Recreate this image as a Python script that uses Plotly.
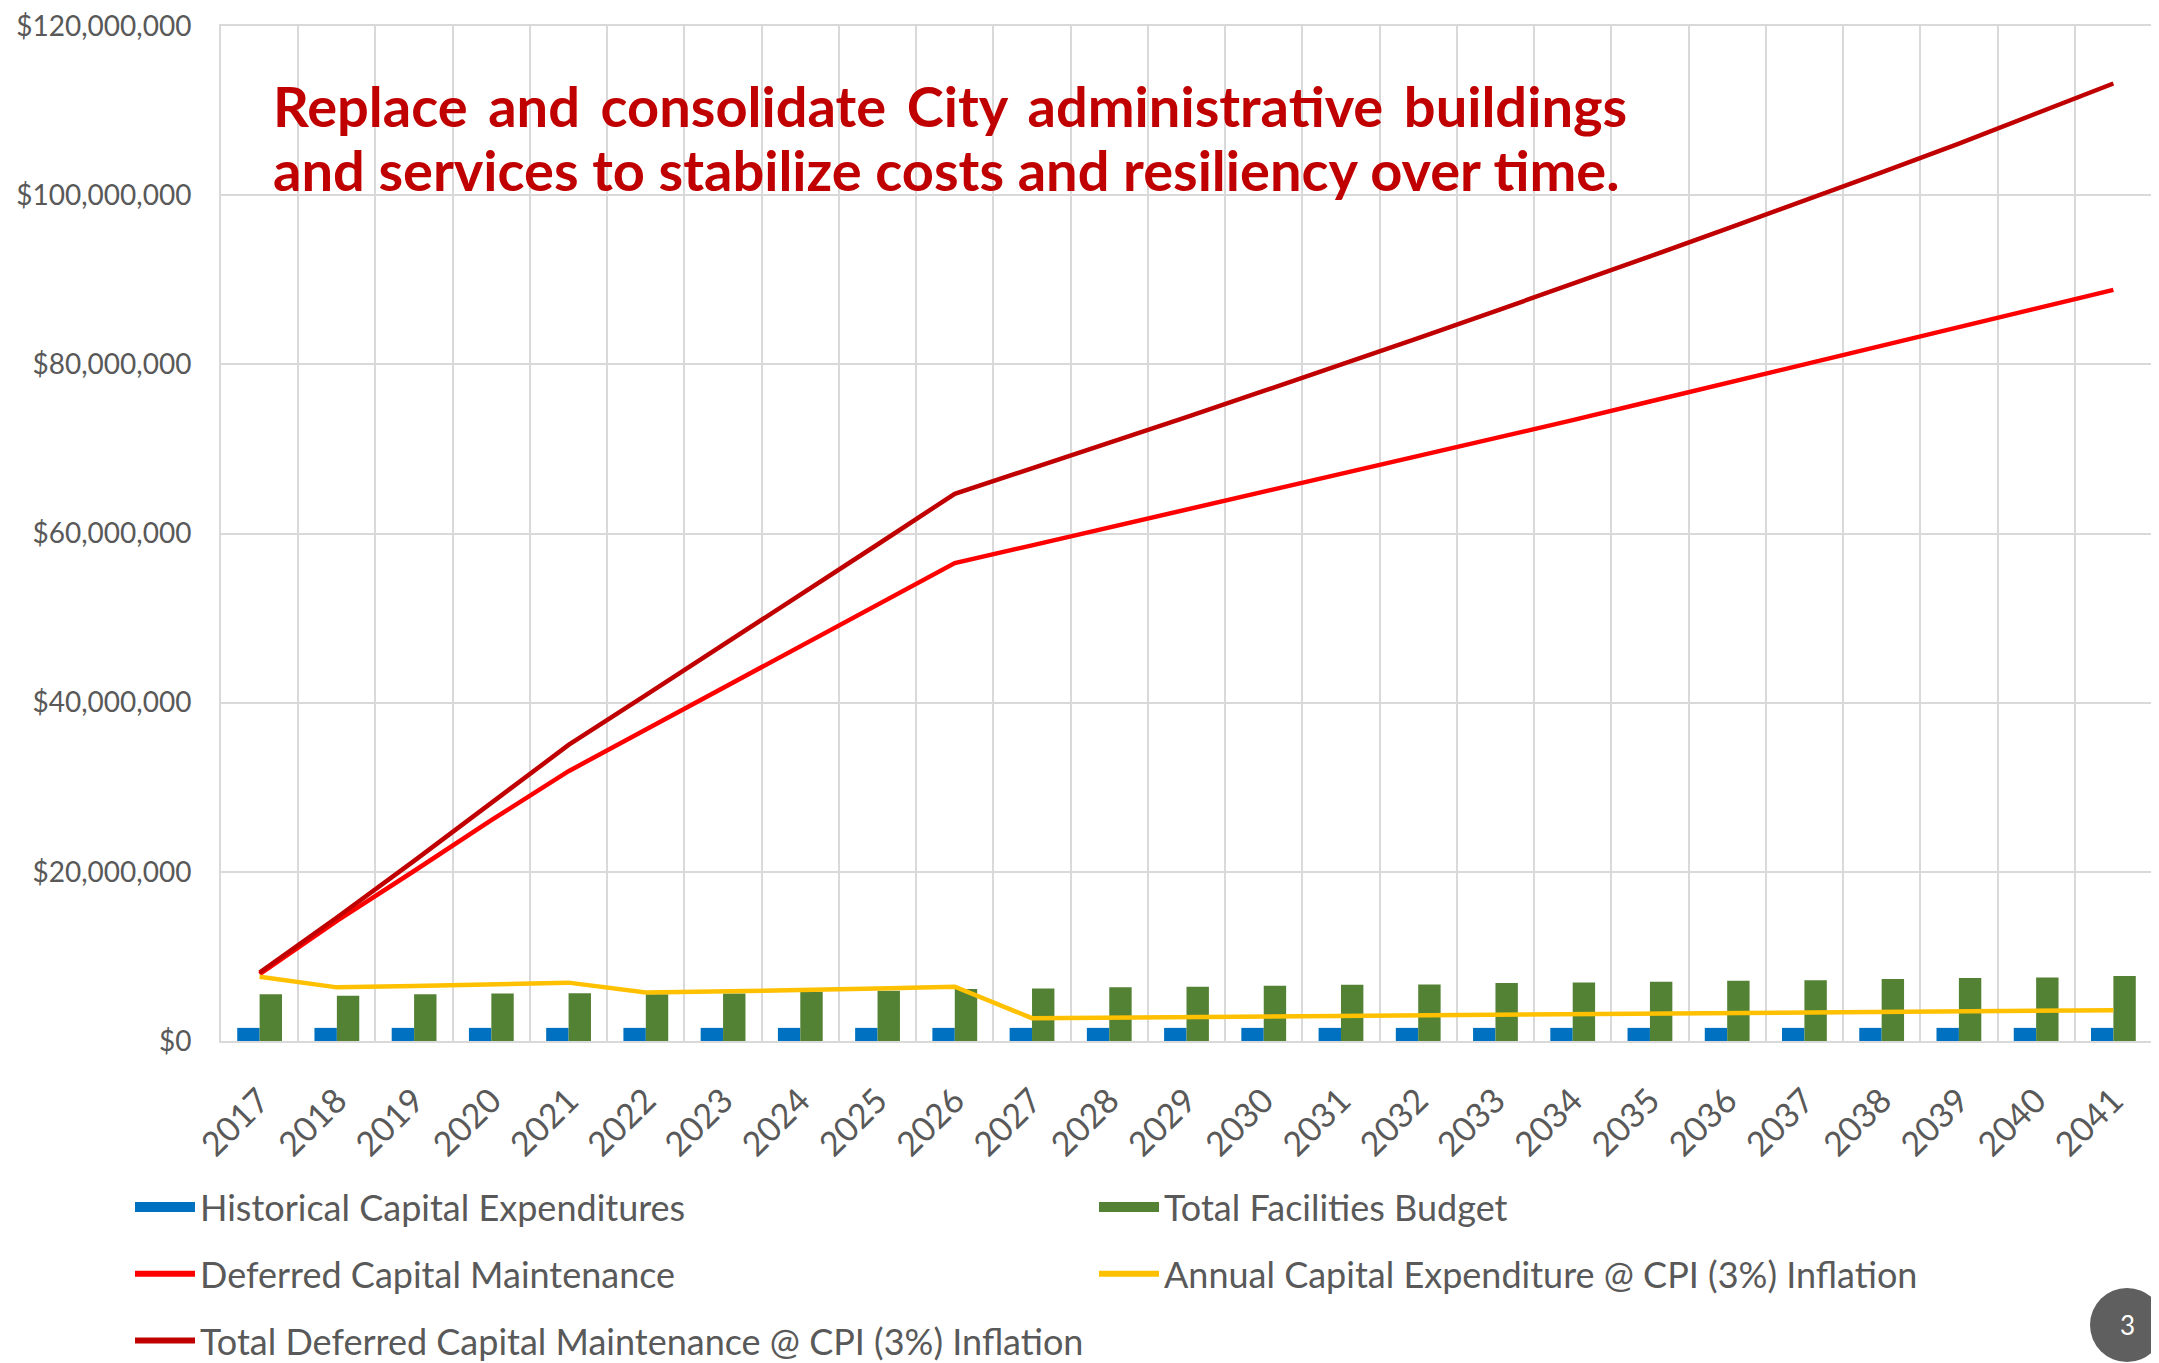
import plotly.graph_objects as go

years = [str(y) for y in range(2017, 2042)]

historical_capex = [1.55] * 25  # $M
facilities_budget = [5.54, 5.35, 5.54, 5.62, 5.66, 5.54, 5.62, 5.82, 5.94, 6.14,
                     6.22, 6.34, 6.42, 6.53, 6.65, 6.69, 6.85, 6.93, 7.01, 7.13,
                     7.17, 7.33, 7.45, 7.52, 7.68]
deferred_maint = [7.9, 14.2, 20.1, 26.1, 31.9, 36.8, 41.7, 46.6, 51.6, 56.5,
                  58.6, 60.7, 62.8, 64.9, 67.0, 69.1, 71.3, 73.4, 75.6, 77.8,
                  80.0, 82.2, 84.4, 86.6, 88.8]
annual_capex_cpi = [7.6, 6.34, 6.5, 6.7, 6.9, 5.74, 5.85, 6.02, 6.22, 6.42,
                    2.70, 2.77, 2.85, 2.92, 2.98, 3.04, 3.10, 3.16, 3.23, 3.30,
                    3.37, 3.44, 3.50, 3.57, 3.64]
total_deferred_cpi = [8.1, 14.6, 21.3, 28.2, 35.0, 40.9, 46.8, 52.8, 58.7, 64.7,
                      67.7, 70.7, 73.75, 76.85, 79.95, 83.1, 86.3, 89.5, 92.75, 96.05,
                      99.35, 102.7, 106.1, 109.6, 113.2]

M = 1_000_000
def dollars(v):
    return [x * M for x in v]

HS = "\u200a\u200a"
title_line1 = (" " + HS).join("Replace and consolidate City administrative buildings".split(" "))
title_line2 = "and services to stabilize costs and resiliency over time."

FONT = "Lato"
GRAY = "#595959"
GRID = "#d9d9d9"
BLUE = "#0070C0"
GREEN = "#548235"

# page body has an 8px margin; compensate so plot area lands at x 221-2152, y 26-1041
PW, PH = 2151, 1355
L, T, R, B = 213, 18, 7, 322
plot_w = PW - L - R
plot_h = PH - T - B

def px_x(x):   # screen x -> paper
    return (x - 221) / plot_w

def px_y(y):   # screen y -> paper
    return (1041 - y) / plot_h

fig = go.Figure()
fig.add_trace(go.Bar(x=years, y=dollars(historical_capex), name="Historical Capital Expenditures",
                     marker=dict(color=BLUE, line=dict(width=0)), showlegend=False,
                     legendgroup="hist"))
fig.add_trace(go.Bar(x=years, y=dollars(facilities_budget), name="Total Facilities Budget",
                     marker=dict(color=GREEN, line=dict(width=0)), showlegend=False,
                     legendgroup="fac"))
fig.add_trace(go.Scatter(x=years, y=dollars(deferred_maint), name="Deferred Capital Maintenance",
                         mode="lines", line=dict(color="#FF0000", width=4.5), showlegend=False,
                         legendgroup="def"))
fig.add_trace(go.Scatter(x=years, y=dollars(annual_capex_cpi), name="Annual Capital Expenditure @ CPI (3%) Inflation",
                         mode="lines", line=dict(color="#FFC000", width=4.5), showlegend=False,
                         legendgroup="ann"))
fig.add_trace(go.Scatter(x=years, y=dollars(total_deferred_cpi), name="Total Deferred Capital Maintenance @ CPI (3%) Inflation",
                         mode="lines", line=dict(color="#C00000", width=4.5), showlegend=False,
                         legendgroup="tot"))

# legend entries (proxies so that symbols look like the Excel legend keys)
legend_entries = [
    ("Historical Capital Expenditures", BLUE, 22, "legend", "hist"),
    ("Deferred Capital Maintenance", "#FF0000", 6, "legend", "def"),
    ("Total Deferred Capital Maintenance @ CPI (3%) Inflation", "#C00000", 6, "legend", "tot"),
    ("Total Facilities Budget", GREEN, 22, "legend2", "fac"),
    ("Annual Capital Expenditure @ CPI (3%) Inflation", "#FFC000", 6, "legend2", "ann"),
]
for name, color, w, lg, grp in legend_entries:
    fig.add_trace(go.Scatter(x=[None], y=[None], mode="lines", name=name,
                             line=dict(color=color, width=w), legend=lg, legendgroup=grp,
                             showlegend=True, hoverinfo="skip"))

legend_common = dict(orientation="v", xanchor="left", yanchor="top",
                     font=dict(family=FONT, size=36, color=GRAY), itemwidth=60,
                     bgcolor="rgba(0,0,0,0)", tracegroupgap=17, traceorder="grouped")

fig.update_layout(
    width=PW, height=PH,
    margin=dict(l=L, r=R, t=T, b=B, autoexpand=False),
    paper_bgcolor="white", plot_bgcolor="white",
    font=dict(family=FONT, color=GRAY, size=25),
    barmode="group", bargap=0.42, bargroupgap=0,
    showlegend=True,
    legend=dict(x=px_x(130), y=px_y(1177), **legend_common),
    legend2=dict(x=px_x(1094), y=px_y(1177), **legend_common),
    xaxis=dict(type="category", tickangle=-45, tickson="boundaries", showgrid=True,
               gridcolor=GRID, gridwidth=1.5, showline=True, linecolor=GRID, linewidth=2,
               mirror=True, ticks="", ticklabelstandoff=24,
               tickfont=dict(family=FONT, size=34, color=GRAY)),
    yaxis=dict(range=[0, 120 * M], dtick=20 * M, tickprefix="$", tickformat=",d",
               showgrid=True, gridcolor=GRID, gridwidth=1.5, showline=True, linecolor=GRID,
               linewidth=2, mirror=True, ticks="", zeroline=False, ticklabelstandoff=22,
               ticklabeloverflow="allow",
               tickfont=dict(family=FONT, size=28, color=GRAY)),
)

fig.add_annotation(text="<b>" + title_line1 + "</b>", xref="paper", yref="paper",
                   x=px_x(271), y=px_y(141), xanchor="left", yanchor="bottom",
                   showarrow=False, font=dict(family=FONT, size=56, color="#C00000"))
fig.add_annotation(text="<b>" + title_line2 + "</b>", xref="paper", yref="paper",
                   x=px_x(271), y=px_y(205), xanchor="left", yanchor="bottom",
                   showarrow=False, font=dict(family=FONT, size=56, color="#C00000"))

cx = px_x(2127)
cy = px_y(1325)
fig.add_shape(type="circle", xref="paper", yref="paper", xsizemode="pixel", ysizemode="pixel",
              xanchor=cx, yanchor=cy, x0=-37, x1=37, y0=-37, y1=37,
              fillcolor="#5f5f5f", line=dict(width=0), layer="above")
fig.add_annotation(text="3", xref="paper", yref="paper", x=cx, y=cy, showarrow=False,
                   xanchor="center", yanchor="middle",
                   font=dict(family=FONT, size=26, color="white"))

fig.write_html("out.html")
